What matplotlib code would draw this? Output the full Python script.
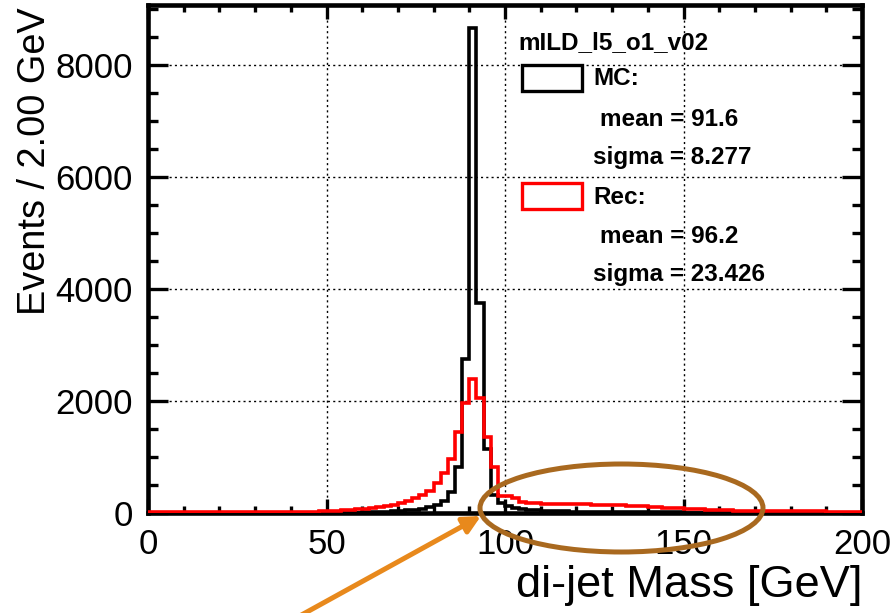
import matplotlib
matplotlib.use('Agg')
import matplotlib.pyplot as plt
from matplotlib.patches import Ellipse, Rectangle, FancyArrowPatch
import numpy as np

plt.rcParams['font.family'] = ['Liberation Sans', 'DejaVu Sans']

# ---------------- data ----------------
bin_edges = np.arange(0, 202, 2)

mc_counts = [
    0, 0, 0, 0, 0,   0, 0, 0, 0, 0,          # 0-20
    0, 0, 0, 0, 0,   0, 0, 0, 0, 0,          # 20-40
    0, 0, 1, 1, 1,   2, 2, 3, 4, 6,          # 40-60
    10, 14, 18, 24, 30,                      # 60-70
    38, 46, 56, 70, 100,                     # 70-80
    150, 220, 370, 830, 2750,                # 80-90
    8660, 3750, 1150, 320, 180,              # 90-100
    130, 90, 70, 55, 45,                     # 100-110
    40, 36, 32, 29, 26,                      # 110-120
    24, 22, 20, 18, 17,                      # 120-130
    16, 15, 14, 13, 12,                      # 130-140
    11, 10, 10, 9, 9,                        # 140-150
    8, 8, 7, 7, 6,                           # 150-160
    6, 6, 5, 5, 5,                           # 160-170
    4, 4, 4, 4, 3,                           # 170-180
    3, 3, 3, 3, 2,                           # 180-190
    2, 2, 2, 2, 2,                           # 190-200
]

rec_counts = [
    10, 10, 10, 10, 10,  10, 10, 11, 11, 11,  # 0-20
    12, 12, 12, 13, 13,  14, 14, 15, 15, 16,  # 20-40
    18, 20, 22, 25, 28,                       # 40-50
    32, 38, 45, 55, 65,                       # 50-60
    80, 95, 110, 125, 150,                    # 60-70
    175, 210, 260, 320, 400,                  # 70-80
    530, 710, 970, 1450, 1960,                # 80-90
    2400, 2050, 1350, 820, 310,               # 90-100
    300, 260, 190, 175, 170,                  # 100-110
    168, 165, 162, 160, 158,                  # 110-120
    155, 152, 150, 147, 143,                  # 120-130
    140, 135, 130, 125, 120,                  # 130-140
    112, 105, 98, 92, 85,                     # 140-150
    78, 72, 66, 60, 55,                       # 150-160
    50, 47, 44, 41, 39,                       # 160-170
    37, 35, 34, 33, 32,                       # 170-180
    31, 30, 29, 28, 27,                       # 180-190
    26, 25, 25, 24, 23,                       # 190-200
]

x_ticks = [0, 50, 100, 150, 200]
y_ticks = [0, 2000, 4000, 6000, 8000]
x_label = "di-jet Mass [GeV]"
y_label = "Events / 2.00 GeV"
legend_title = "mILD_l5_o1_v02"
mc_stats = ["MC:", "mean = 91.6", "sigma = 8.277"]
rec_stats = ["Rec:", "mean = 96.2", "sigma = 23.426"]

# ---------------- figure ----------------
W, H = 896, 613
fig = plt.figure(figsize=(W / 100, H / 100), dpi=100)


def fx(px):
    return px / W


def fy(py):
    return 1 - py / H


ax = fig.add_axes([fx(148), fy(513), (862 - 148) / W, (513 - 5) / H])
ax.stairs(mc_counts, bin_edges, color='black', lw=2.6, baseline=None, zorder=3)
ax.stairs(rec_counts, bin_edges, color='red', lw=2.6, baseline=None, zorder=3.1)

ax.set_xlim(0, 200)
ax.set_ylim(0, 9070)
ax.set_xticks(x_ticks)
ax.set_yticks(y_ticks)
ax.set_xticklabels([str(v) for v in x_ticks])
ax.set_yticklabels([str(v) for v in y_ticks])
ax.set_xticks(np.arange(0, 201, 10), minor=True)
ax.set_yticks(np.arange(0, 9001, 500), minor=True)
ax.grid(True, which='major', ls=(0, (1.5, 2.3)), color='black', lw=1.0)
ax.set_axisbelow(True)

for s in ax.spines.values():
    s.set_linewidth(3.3)

ax.tick_params(which='both', direction='in', top=True, right=True, width=2.4,
               labelsize=25)
ax.tick_params(axis='x', which='major', length=10, pad=11)
ax.tick_params(axis='x', which='minor', length=5)
ax.tick_params(axis='y', which='major', length=14.5, pad=11)
ax.tick_params(axis='y', which='minor', length=7)

# axis titles
fig.text(fx(862), fy(597), x_label, ha='right', va='baseline', fontsize=32.5)
fig.text(fx(45), fy(315), y_label, rotation=90, rotation_mode='anchor',
         ha='left', va='baseline', fontsize=27.3)

# legend block
lfs = 17.5
fig.text(fx(518), fy(49), legend_title, fontsize=lfs, fontweight='bold',
         ha='left', va='baseline')
fig.add_artist(Rectangle((fx(522), fy(91)), 60 / W, 26 / H,
                         transform=fig.transFigure, fill=False,
                         ec='black', lw=2.4))
fig.add_artist(Rectangle((fx(522), fy(209)), 60 / W, 26 / H,
                         transform=fig.transFigure, fill=False,
                         ec='red', lw=2.4))
fig.text(fx(593), fy(85), mc_stats[0], fontsize=lfs, fontweight='bold', va='baseline')
fig.text(fx(600), fy(126), mc_stats[1], fontsize=lfs, fontweight='bold', va='baseline')
fig.text(fx(593), fy(164), mc_stats[2], fontsize=lfs, fontweight='bold', va='baseline')
fig.text(fx(593), fy(204), rec_stats[0], fontsize=lfs, fontweight='bold', va='baseline')
fig.text(fx(600), fy(243), rec_stats[1], fontsize=lfs, fontweight='bold', va='baseline')
fig.text(fx(593), fy(281), rec_stats[2], fontsize=lfs, fontweight='bold', va='baseline')

# annotations: ellipse and arrow
fig.add_artist(Ellipse((fx(621.5), fy(508)), 283 / W, 88 / H,
                       transform=fig.transFigure, fill=False,
                       ec='#A9691F', lw=3.6, zorder=10))
fig.add_artist(FancyArrowPatch((fx(296), fy(618)), (fx(481), fy(516)),
                               transform=fig.transFigure,
                               arrowstyle='-|>', mutation_scale=26,
                               lw=3.6, color='#E8891C',
                               shrinkA=0, shrinkB=0, zorder=11))

fig.savefig('out.png', dpi=100)
